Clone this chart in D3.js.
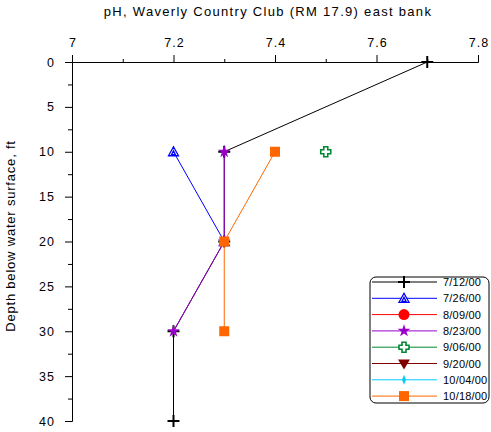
<!DOCTYPE html>
<html>
<head>
<meta charset="utf-8">
<script src="https://cdn.jsdelivr.net/npm/d3@7"></script>
<style>
  body { margin: 0; background: #fff; }
  svg { font-family: "Liberation Sans", Arial, sans-serif; }
</style>
</head>
<body>
<svg></svg>
<script>
// Survey dates, colours and marker kind for each
const dates = ['7/12/00', '7/26/00', '8/09/00', '8/23/00', '9/06/00', '9/20/00', '10/04/00', '10/18/00']
const colors = ['#000000', '#0000ff', '#ff0000', '#9900cc', '#008833', '#800000', '#00ccff', '#ff6600']
const markers = ['plus', 'triangle', 'circle', 'star', 'cross', 'down', 'diamond', 'square']

// pH readings per date, with depths in ft
const depths_0712 = [0, 10, 20, 30, 40]
const ph_0712 = [7.7, 7.3, 7.3, 7.2, 7.2]
const depths_0726 = [10, 20]
const ph_0726 = [7.2, 7.3]
const depths_0823 = [10, 20, 30]
const ph_0823 = [7.3, 7.3, 7.2]
const depths_0906 = [10]
const ph_0906 = [7.5]
const depths_1018 = [10, 20, 30]
const ph_1018 = [7.4, 7.3, 7.3]

const xTicks = [7, 7.2, 7.4, 7.6, 7.8]
const yTicks = [0, 5, 10, 15, 20, 25, 30, 35, 40]

const series = [
    { depth: depths_0712, ph: ph_0712 },
    { depth: depths_0726, ph: ph_0726 },
    { depth: [], ph: [] },
    { depth: depths_0823, ph: ph_0823 },
    { depth: depths_0906, ph: ph_0906 },
    { depth: [], ph: [] },
    { depth: [], ph: [] },
    { depth: depths_1018, ph: ph_1018 }
].map((s, i) => ({
    name: dates[i], color: colors[i], marker: markers[i],
    values: s.depth.map((d, j) => ({ depth: d, ph: s.ph[j] }))
}))

// Canvas setup
let width = 491
let height = 432
let svg = d3.select('svg').attr('width', width).attr('height', height)

let xScale = d3.scaleLinear().domain([7, 7.8]).range([72, 478])
let yScale = d3.scaleLinear().domain([0, 40]).range([62, 421])

// Title and axis label
svg.append('text')
    .attr('x', 268).attr('y', 16)
    .attr('text-anchor', 'middle')
    .style('font-size', '13px')
    .style('letter-spacing', '1.3px')
    .text('pH, Waverly Country Club (RM 17.9) east bank')

svg.append('text')
    .attr('transform', 'translate(15,' + 236 + ') rotate(-90)')
    .attr('text-anchor', 'middle')
    .style('font-size', '13px')
    .style('letter-spacing', '0.8px')
    .text('Depth below water surface, ft')

// Axes - minor ticks first, then major with labels
svg.append('g')
    .attr('transform', 'translate(0,' + yScale(0) + ')')
    .call(d3.axisTop(xScale).tickValues(d3.range(7.1, 7.8, 0.2)).tickSize(3).tickFormat('').tickSizeOuter(0))
svg.append('g')
    .attr('class', 'x-axis')
    .attr('transform', 'translate(0,' + yScale(0) + ')')
    .call(d3.axisTop(xScale).tickValues(xTicks).tickSize(7).tickPadding(8).tickSizeOuter(0)
        .tickFormat(d => d3.format('')(d)))

svg.append('g')
    .attr('transform', 'translate(' + xScale(7) + ',0)')
    .call(d3.axisLeft(yScale).tickValues(d3.range(2.5, 40, 5)).tickSize(4).tickFormat('').tickSizeOuter(0))
svg.append('g')
    .attr('class', 'y-axis')
    .attr('transform', 'translate(' + xScale(7) + ',0)')
    .call(d3.axisLeft(yScale).tickValues(yTicks).tickSize(7).tickPadding(10).tickSizeOuter(0))

svg.selectAll('.tick text').style('font-size', '12.5px').style('letter-spacing', '1px').attr('fill', '#000')
svg.selectAll('.x-axis .tick text').attr('dx', '0.5')
svg.selectAll('.domain, .tick line').attr('stroke', '#000')

// Marker shapes, drawn around 0,0
function drawMarker(g, kind, color) {
    if (kind == 'plus') {
        g.append('path').attr('d', 'M-6,0H6M0,-6V6').attr('stroke', color).attr('stroke-width', 2).attr('fill', 'none')
    } else if (kind == 'triangle') {
        g.append('path').attr('d', 'M0,-5L5,4H-5Z M0,-1L2,3H-2Z').attr('stroke', color).attr('stroke-width', 1.3).attr('fill', '#fff')
    } else if (kind == 'circle') {
        g.append('circle').attr('r', 5.5).attr('fill', color)
    } else if (kind == 'star') {
        g.append('path').attr('d', d3.symbol(d3.symbolStar, 50)()).attr('fill', color)
    } else if (kind == 'cross') {
        g.append('path').attr('d', 'M-2,-5H2V-2H5V2H2V5H-2V2H-5V-2H-2Z').attr('stroke', color).attr('stroke-width', 1.6).attr('fill', '#fff')
    } else if (kind == 'down') {
        g.append('path').attr('d', 'M-6,-4H6L0,6Z').attr('fill', color)
    } else if (kind == 'diamond') {
        g.append('path').attr('d', 'M0,-5L2,0L0,5L-2,0Z').attr('fill', color)
    } else if (kind == 'square') {
        g.append('rect').attr('x', -5).attr('y', -5).attr('width', 10).attr('height', 10).attr('fill', color)
    }
}

let line = d3.line().x(d => xScale(d.ph)).y(d => yScale(d.depth))

// Draw each date's profile
series.forEach(s => {
    let g = svg.append('g')
    g.append('path')
        .datum(s.values)
        .attr('d', line)
        .attr('fill', 'none')
        .attr('stroke', s.color)
        .attr('stroke-width', 1)
    g.selectAll('g.pt')
        .data(s.values)
        .enter()
        .append('g')
        .attr('class', 'pt')
        .attr('transform', d => 'translate(' + xScale(d.ph) + ',' + yScale(d.depth) + ')')
        .each(function () { drawMarker(d3.select(this), s.marker, s.color) })
})

// Legend
let legend = svg.append('g').attr('transform', 'translate(370,277)')
legend.append('rect')
    .attr('width', 119).attr('height', 126)
    .attr('rx', 6)
    .attr('fill', '#fff').attr('stroke', '#000')

let rowH = 16.3
series.forEach((s, i) => {
    let row = legend.append('g').attr('transform', 'translate(0,' + (5 + i * rowH) + ')')
    row.append('line').attr('x1', 2).attr('x2', 67).attr('stroke', s.color)
    drawMarker(row.append('g').attr('transform', 'translate(34,0)'), s.marker, s.color)
    row.append('text')
        .attr('x', 73).attr('y', 4)
        .style('font-size', '11px')
        .style('letter-spacing', '0.2px')
        .text(s.name)
})
</script>
</body>
</html>
